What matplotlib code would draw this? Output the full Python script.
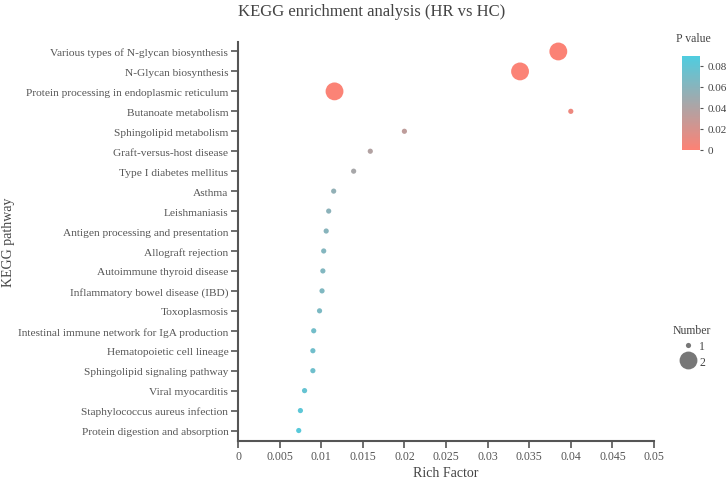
import numpy as np
import matplotlib.pyplot as plt
from matplotlib.colors import LinearSegmentedColormap, Normalize
from matplotlib.lines import Line2D
from matplotlib.ticker import FuncFormatter

plt.rcParams['font.family'] = ['Liberation Serif', 'DejaVu Serif']

pathways = [
    "Various types of N-glycan biosynthesis",
    "N-Glycan biosynthesis",
    "Protein processing in endoplasmic reticulum",
    "Butanoate metabolism",
    "Sphingolipid metabolism",
    "Graft-versus-host disease",
    "Type I diabetes mellitus",
    "Asthma",
    "Leishmaniasis",
    "Antigen processing and presentation",
    "Allograft rejection",
    "Autoimmune thyroid disease",
    "Inflammatory bowel disease (IBD)",
    "Toxoplasmosis",
    "Intestinal immune network for IgA production",
    "Hematopoietic cell lineage",
    "Sphingolipid signaling pathway",
    "Viral myocarditis",
    "Staphylococcus aureus infection",
    "Protein digestion and absorption",
]
rich_factor = [0.0385, 0.0339, 0.0116, 0.0400, 0.0200, 0.0159, 0.0139,
               0.0115, 0.0109, 0.0106, 0.0103, 0.0102, 0.0101, 0.0098,
               0.0091, 0.0090, 0.0090, 0.0080, 0.0075, 0.0073]
p_values = [0.0005, 0.001, 0.001, 0.008, 0.032, 0.038, 0.044,
            0.055, 0.058, 0.060, 0.062, 0.063, 0.064, 0.066,
            0.071, 0.072, 0.073, 0.078, 0.082, 0.085]
numbers = [2, 2, 2, 1, 1, 1, 1, 1, 1, 1, 1, 1, 1, 1, 1, 1, 1, 1, 1, 1]

text_col = "#444444"
tick_col = "#555555"

cmap = LinearSegmentedColormap.from_list("pv", ["#FC8275", "#4ECDE0"])
norm = Normalize(vmin=0, vmax=0.09)


def size_of(n):
    # marker area in pt^2
    return {1: 14, 2: 165}[n]


fig = plt.figure(figsize=(7.26, 4.81), dpi=100)
ax = fig.add_axes([238 / 726, 1 - 441.5 / 481, 416 / 726, 399 / 481])

ypos = np.arange(len(pathways))
ax.scatter(rich_factor, ypos, s=[size_of(n) for n in numbers],
           c=p_values, cmap=cmap, norm=norm, edgecolors="none", zorder=3)

ax.set_ylim(len(pathways) - 0.5, -0.5)
ax.set_yticks(ypos)
ax.set_yticklabels(pathways, fontsize=8.2, color=text_col)
ax.set_xlim(0, 0.05)
xt = np.arange(0, 0.0501, 0.005)
ax.set_xticks(xt)
ax.xaxis.set_major_formatter(FuncFormatter(lambda v, p: "0" if v == 0 else f"{v:g}"))
ax.tick_params(axis="x", labelsize=8.5, labelcolor=text_col, pad=2)
ax.tick_params(axis="y", pad=2)
ax.tick_params(colors=tick_col, length=5, width=1.2, direction="out")

for s in ["top", "right"]:
    ax.spines[s].set_visible(False)
for s in ["left", "bottom"]:
    ax.spines[s].set_color(tick_col)
    ax.spines[s].set_linewidth(1.5)

ax.set_xlabel("Rich Factor", fontsize=10, color=text_col, va="center")
ax.xaxis.set_label_coords(0.5, -(474 - 441.5) / 399)
ax.set_ylabel("KEGG pathway", fontsize=10, color=text_col)
ax.yaxis.set_label_coords(-0.535, 0.5)

fig.text(372 / 726, 1 - 12 / 481, "KEGG enrichment analysis (HR vs HC)", ha="center", va="center",
         fontsize=12, color=text_col)

# colorbar
cax = fig.add_axes([681.5 / 726, 1 - 150.5 / 481, 18.5 / 726, 94 / 481])
sm = plt.cm.ScalarMappable(cmap=cmap, norm=norm)
cb = fig.colorbar(sm, cax=cax, ticks=[0, 0.02, 0.04, 0.06, 0.08])
cb.outline.set_visible(False)
cb.ax.yaxis.set_major_formatter(FuncFormatter(lambda v, p: "0" if v == 0 else f"{v:g}"))
cb.ax.tick_params(labelsize=8, colors=tick_col, labelcolor=text_col, length=2, width=0.8)
fig.text(693 / 726, 1 - 39 / 481, "P value", ha="center", va="center",
         fontsize=8.5, color=text_col)

# size legend
handles = [Line2D([], [], ls="none", marker="o", color="#777777", markeredgecolor="none",
                  markersize=np.sqrt(size_of(n))) for n in [1, 2]]
leg = fig.legend(handles, ["1", "2"], title="Number", loc="center",
                 bbox_to_anchor=(692 / 726, 1 - 347 / 481), frameon=False,
                 fontsize=8.5, title_fontsize=8.5, labelspacing=0.3,
                 handletextpad=0.2, handlelength=1.5, borderpad=0)
for t in leg.get_texts():
    t.set_color(text_col)
leg.get_title().set_color(text_col)

fig.savefig("out.png", dpi=100)
